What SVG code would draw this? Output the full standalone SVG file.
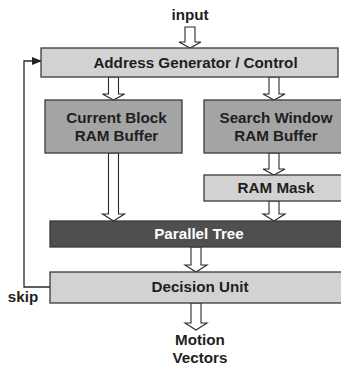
<svg xmlns="http://www.w3.org/2000/svg" width="341" height="367" viewBox="0 0 341 367">
<defs>
<style>
.box{stroke:#3a3a3a;stroke-width:1.3}
.light{fill:#d2d2d2}
.mid{fill:#a4a4a4}
.dark{fill:#4f4f4f}
.t{font-family:"Liberation Sans",Arial,sans-serif;font-weight:bold;font-size:15.2px;fill:#1e1e1e;text-anchor:middle}
.w{fill:#fff}
.ha{fill:#fff;stroke:#2a2a2a;stroke-width:1.1;stroke-linejoin:miter}
.ln{fill:none;stroke:#2a2a2a;stroke-width:1.3}
</style>
<marker id="ah" markerWidth="10" markerHeight="8" refX="9" refY="4" orient="auto" markerUnits="userSpaceOnUse">
<path d="M0,0 L10,4 L0,8 Z" fill="#222"/>
</marker>
</defs>
<rect width="341" height="367" fill="#fff"/>
<g id="connectors">
<polygon class="ha" points="185,27 195,27 195,42 201,42 190,48 179,42 185,42"/>
<polygon class="ha" points="108.5,77 118.5,77 118.5,94 124.5,94 113.5,100 102.5,94 108.5,94"/>
<polygon class="ha" points="269,77 279,77 279,94 285,94 274,100 263,94 269,94"/>
<polygon class="ha" points="269,153 279,153 279,169 285,169 274,175 263,169 269,169"/>
<polygon class="ha" points="108.5,153 118.5,153 118.5,214 124.5,214 113.5,221 102.5,214 108.5,214"/>
<polygon class="ha" points="269,201 279,201 279,214 285,214 274,221 263,214 269,214"/>
<polygon class="ha" points="191,247 201,247 201,265 207,265 196,272 185,265 191,265"/>
<polygon class="ha" points="191,303 201,303 201,323 207,323 196,330 185,323 191,323"/>
<path class="ln" d="M50,287 H24 V61 H41" marker-end="url(#ah)"/>
</g>
<g id="input"><text class="t" x="190" y="20">input</text></g>
<g id="address">
<rect class="box light" x="41" y="48" width="297" height="29"/>
<text class="t" x="195.5" y="68">Address Generator / Control</text>
</g>
<g id="current">
<rect class="box mid" x="45" y="100" width="137" height="53"/>
<text class="t" x="116.5" y="123">Current Block</text>
<text class="t" x="116.5" y="141">RAM Buffer</text>
</g>
<g id="search">
<rect class="box mid" x="204" y="100" width="145" height="53"/>
<text class="t" x="276" y="123">Search Window</text>
<text class="t" x="276" y="141">RAM Buffer</text>
</g>
<g id="mask">
<rect class="box light" x="204" y="175" width="145" height="26"/>
<text class="t" x="276" y="193">RAM Mask</text>
</g>
<g id="tree">
<rect class="box dark" x="50" y="221" width="299" height="26"/>
<text class="t w" x="199" y="239">Parallel Tree</text>
</g>
<g id="decision">
<rect class="box light" x="50" y="272" width="299" height="31"/>
<text class="t" x="200" y="292">Decision Unit</text>
</g>
<g id="skip"><text class="t" x="23" y="302">skip</text></g>
<g id="motion">
<text class="t" x="200" y="345">Motion</text>
<text class="t" x="200" y="363">Vectors</text>
</g>
</svg>
